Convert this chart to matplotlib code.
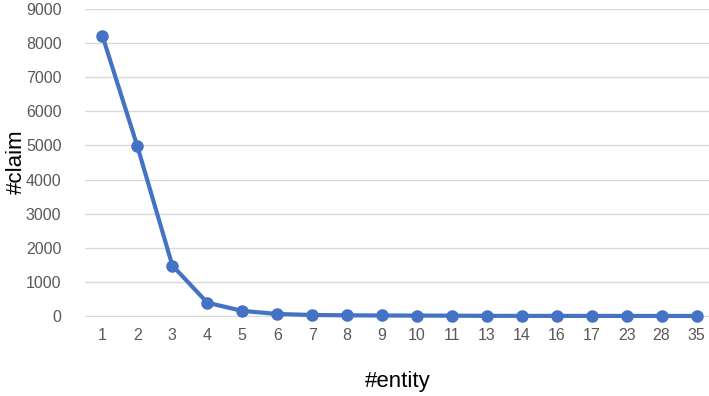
import matplotlib
matplotlib.use("Agg")
import matplotlib.pyplot as plt

categories = ["1", "2", "3", "4", "5", "6", "7", "8", "9", "10", "11", "13", "14", "16", "17", "23", "28", "35"]
claims = [8210, 4970, 1480, 390, 150, 60, 30, 20, 15, 12, 10, 5, 4, 3, 3, 2, 2, 1]
yticks = [0, 1000, 2000, 3000, 4000, 5000, 6000, 7000, 8000, 9000]

plt.rcParams['font.family'] = ['Liberation Sans', 'DejaVu Sans']
W, H = 709, 396
fig = plt.figure(figsize=(W / 100, H / 100), dpi=100)
left, right = 85, 714
top, bottom = 9, 316
ax = fig.add_axes([left / W, 1 - bottom / H, (right - left) / W, (bottom - top) / H])

x = list(range(len(categories)))
ax.plot(x, claims, color="#4472C4", lw=3, marker="o", ms=8, solid_capstyle="round", zorder=3, clip_on=False)
ax.set_xlim(-0.5, len(categories) - 0.5)
ax.set_ylim(0, 9000)
ax.set_yticks(yticks)
ax.set_yticklabels([str(v) for v in yticks])
ax.set_xticks(x)
ax.set_xticklabels(categories)
ax.grid(axis="y", color="#D9D9D9", lw=1)
ax.set_axisbelow(True)
for s in ["top", "right", "left"]:
    ax.spines[s].set_visible(False)
ax.spines["bottom"].set_color("#D9D9D9")
ax.tick_params(axis="both", length=0, labelsize=11.5, colors="#595959")
ax.tick_params(axis="y", pad=17)
ax.tick_params(axis="x", pad=9)
fig.text(16 / W, 1 - 162 / H, "#claim", fontsize=16, rotation=90, ha="center", va="center")
fig.text(398 / W, 1 - 382 / H, "#entity", fontsize=16, ha="center", va="center")
fig.savefig("out.png", dpi=100)
